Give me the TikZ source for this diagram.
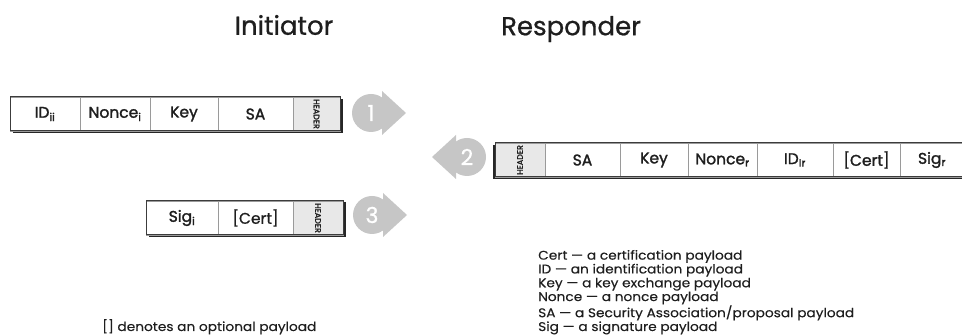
\documentclass[tikz,border=0pt]{standalone}
\usepackage{fontspec}
\setmainfont{Poppins}
\newfontfamily\medfont[FakeBold=0.8]{Poppins}
\newfontfamily\boldfont[FakeBold=1.6]{Poppins}
\newfontfamily\widefont[FakeStretch=1.09,FakeBold=0.3]{Poppins}
\definecolor{ink}{HTML}{1E1E1E}
\definecolor{arrowgray}{HTML}{C6C6C6}
\definecolor{hdrfill}{HTML}{E8E8E8}
\definecolor{divider}{HTML}{9A9A9A}
\definecolor{frame}{HTML}{3C3C3C}
\begin{document}
\begin{tikzpicture}[x=1pt,y=-1pt,
  title/.style={font=\medfont\fontsize{26}{30}\selectfont, text=ink, inner sep=0pt},
  cell/.style={draw=divider, line width=0.7pt, fill=white, inner sep=0pt, outer sep=0pt,
    minimum height=34pt, font=\boldfont\fontsize{15.5}{17}\selectfont, text=ink},
  lcell/.style={cell, font=\medfont\fontsize{15.5}{17}\selectfont},
  hdr/.style={cell, fill=hdrfill, font=\boldfont\fontsize{8}{8}\selectfont},
  numtxt/.style={font=\medfont\fontsize{22}{24}\selectfont, text=white, inner sep=0pt},
  legend/.style={font=\widefont\fontsize{12.6}{13.8}\selectfont, text=ink, align=left, inner sep=0pt},
  pics/toright/.style={code={
    \fill[arrowgray] (0,0) circle (19);
    \fill[arrowgray] (11,-22) -- (35,0) -- (11,22) -- cycle;}},
  pics/toleft/.style={code={
    \fill[arrowgray] (0,0) circle (19);
    \fill[arrowgray] (-11,-22) -- (-35,0) -- (-11,22) -- cycle;}}
]
\useasboundingbox (0,0) rectangle (962,336);

% column headings
\node[title] (init) at (284,25) {Initiator};
\node[title] (resp) at (571,29) {Responder};

% message 1: initiator -> responder
\fill[black!85] (12.5,99.5) rectangle (342.5,133.5);
\node[cell, minimum width=70pt] (m1id)  at (45,114)    {ID\textsubscript{ii}};
\node[cell, minimum width=70pt] (m1no)  at (115,114)   {Nonce\textsubscript{i}};
\node[cell, minimum width=68pt] (m1key) at (184,114)   {Key};
\node[cell, minimum width=75pt] (m1sa)  at (255.5,114) {SA};
\node[hdr,  minimum width=47pt] (m1hd)  at (316.5,114) {\rotatebox{-90}{HEADER}};
\draw[frame, line width=1pt] (m1id.north west) rectangle (m1hd.south east);
\pic at (371,113) {toright};
\node[numtxt] (n1) at (371,113) {1};

% message 2: responder -> initiator
\fill[black!85] (492.5,145.5) rectangle (975,179.5);
\node[hdr,  minimum width=50pt] (m2hd)  at (520,160)   {\rotatebox{90}{HEADER}};
\node[cell, minimum width=75pt] (m2sa)  at (582.5,160) {SA};
\node[cell, minimum width=68pt] (m2key) at (654,160)   {Key};
\node[cell, minimum width=69pt] (m2no)  at (722.5,160) {Nonce\textsubscript{r}};
\node[lcell,minimum width=76pt] (m2id)  at (795,160)   {ID\textsubscript{Ir}};
\node[cell, minimum width=67pt] (m2ce)  at (866.5,160) {[Cert]};
\node[cell, minimum width=64pt] (m2sig) at (932,160)   {Sig\textsubscript{r}};
\draw[frame, line width=1pt] (m2hd.north west) rectangle (975,177);
\pic at (467,157) {toleft};
\node[numtxt] (n2) at (467,157) {2};

% message 3: initiator -> responder
\fill[black!85] (148.5,202.5) rectangle (345.5,237.5);
\node[cell, minimum width=72pt] (m3sig) at (182,218) {Sig\textsubscript{i}};
\node[lcell,minimum width=75pt] (m3ce)  at (255.5,218) {[Cert]};
\node[hdr,  minimum width=50pt] (m3hd)  at (318,218) {\rotatebox{-90}{HEADER}};
\draw[frame, line width=1pt] (m3sig.north west) rectangle (m3hd.south east);
\pic at (372,215) {toright};
\node[numtxt] (n3) at (372,215) {3};

% key to the payload names (node baseline is that of its last line)
\node[legend, anchor=base west] (key) at (538,331) {%
Cert — a certification payload\\
ID — an identification payload\\
Key — a key exchange payload\\
Nonce — a nonce payload\\
SA — a Security Association/proposal payload\\
Sig — a signature payload};
\node[legend, anchor=base west] (note) at (102,331) {[] denotes an optional payload};
\end{tikzpicture}
\end{document}
